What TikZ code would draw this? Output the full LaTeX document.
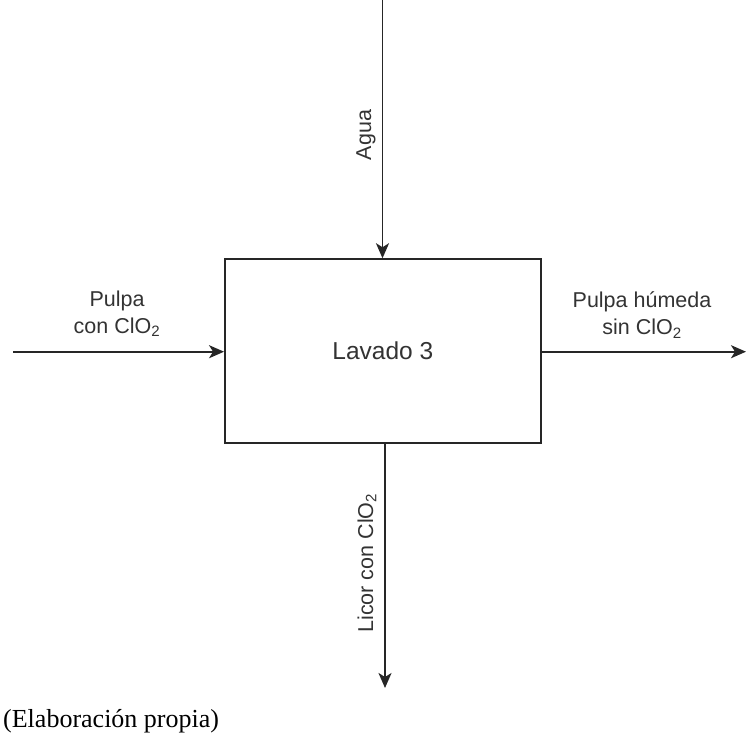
\documentclass[tikz,border=0pt]{standalone}
\usepackage{fontspec}
\setmainfont{Liberation Serif}
\newfontfamily\arialfont{Liberation Sans}
\usetikzlibrary{arrows.meta,calc}
\begin{document}
\begin{tikzpicture}[x=1pt,y=1pt,
  flow/.style={draw=black!85, line width=1.9pt, -{Stealth[length=15pt,width=13pt,inset=4pt]}},
  procbox/.style={draw=black!85, line width=2pt, rectangle, minimum width=315.5pt, minimum height=183.5pt, inner sep=0pt, font=\arialfont\fontsize{24.5}{28}\selectfont, text=black!80},
  lbl/.style={font=\arialfont\fontsize{21.5}{27}\selectfont, text=black!80, align=center, inner sep=0pt}]
\useasboundingbox (0,0) rectangle (746,-740);
\node[procbox] (b) at (382.8,-351) {Lavado 3};
\coordinate (tin) at (382.5,0);
\coordinate (lin) at (13,-351.7);
\coordinate (rout) at (746,-351.7);
\coordinate (bout) at (385,-688);
\draw[flow] (tin) -- (tin |- b.north);
\draw[flow] (lin) -- (lin -| b.west);
\draw[flow] (rout -| b.east) -- (rout);
\draw[flow] (bout |- b.south) -- (bout);
\node[lbl, rotate=90] (agua) at (366,-135) {Agua};
\node[lbl, rotate=90] (licor) at (367,-563) {Licor con ClO\textsubscript{2}};
\node[lbl] (pin) at (117,-314) {Pulpa\\con ClO\textsubscript{2}};
\node[lbl] (pout) at (642,-315) {Pulpa húmeda\\sin ClO\textsubscript{2}};
\node[anchor=base west, inner sep=0pt, font=\fontsize{26}{30}\selectfont] (cap) at (3,-727) {(Elaboración propia)};
\end{tikzpicture}
\end{document}
